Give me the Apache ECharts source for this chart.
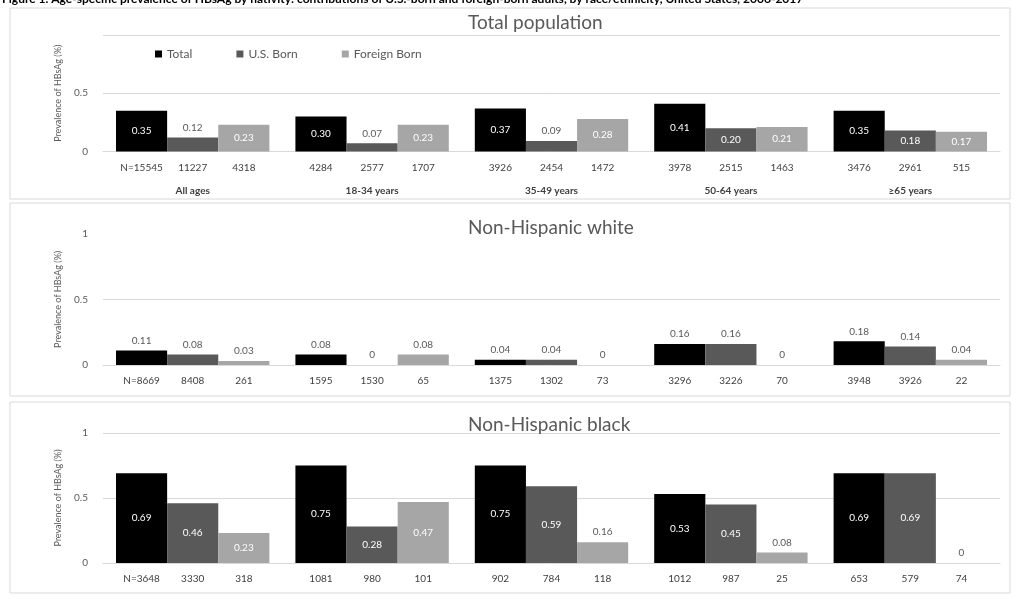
<!DOCTYPE html>
<html>
<head>
<meta charset="utf-8">
<script src="https://cdn.jsdelivr.net/npm/echarts@6/dist/echarts.min.js"></script>
<style>
  html, body { margin: 0; padding: 0; background: #fff; }
  #chart { width: 1018px; height: 599px; }
</style>
</head>
<body>
<div id="chart"></div>
<script>
// Age groups and nativity groups
const categories = ['All ages', '18-34 years', '35-49 years', '50-64 years', '\u226565 years'];
const seriesNames = ['Total', 'U.S. Born', 'Foreign Born'];
const yTicks = [0, 0.5, 1];

// Total population
const totalPopTotal = [0.35, 0.30, 0.37, 0.41, 0.35];
const totalPopUS = [0.12, 0.07, 0.09, 0.20, 0.18];
const totalPopForeign = [0.23, 0.23, 0.28, 0.21, 0.17];
const totalPopNTotal = ['N=15545', '4284', '3926', '3978', '3476'];
const totalPopNUS = ['11227', '2577', '2454', '2515', '2961'];
const totalPopNForeign = ['4318', '1707', '1472', '1463', '515'];

// Non-Hispanic white
const whiteTotal = [0.11, 0.08, 0.04, 0.16, 0.18];
const whiteUS = [0.08, 0, 0.04, 0.16, 0.14];
const whiteForeign = [0.03, 0.08, 0, 0, 0.04];
const whiteNTotal = ['N=8669', '1595', '1375', '3296', '3948'];
const whiteNUS = ['8408', '1530', '1302', '3226', '3926'];
const whiteNForeign = ['261', '65', '73', '70', '22'];

// Non-Hispanic black
const blackTotal = [0.69, 0.75, 0.75, 0.53, 0.69];
const blackUS = [0.46, 0.28, 0.59, 0.45, 0.69];
const blackForeign = [0.23, 0.47, 0.16, 0.08, 0];
const blackNTotal = ['N=3648', '1081', '902', '1012', '653'];
const blackNUS = ['3330', '980', '784', '987', '579'];
const blackNForeign = ['318', '101', '118', '25', '74'];

const panelTitles = ['Total population', 'Non-Hispanic white', 'Non-Hispanic black'];
const yAxisTitle = 'Prevalence of HBsAg (%)';

const FONT = 'Lato, "Liberation Sans", sans-serif';
const barColors = ['#000000', '#595959', '#a6a6a6'];

const panels = [
  { values: [totalPopTotal, totalPopUS, totalPopForeign], ns: [totalPopNTotal, totalPopNUS, totalPopNForeign],
    grid: { left: 103, right: 18, top: 35, bottom: 447.5 }, insideMin: 0.15, showMaxLabel: false, showMaxLine: true, catLabels: true, titleTop: 8 },
  { values: [whiteTotal, whiteUS, whiteForeign], ns: [whiteNTotal, whiteNUS, whiteNForeign],
    grid: { left: 103, right: 18, top: 233.6, bottom: 234 }, insideMin: 10, showMaxLabel: true, showMaxLine: false, catLabels: false, titleTop: 213 },
  { values: [blackTotal, blackUS, blackForeign], ns: [blackNTotal, blackNUS, blackNForeign],
    grid: { left: 103, right: 18, top: 433, bottom: 36 }, insideMin: 0.2, showMaxLabel: true, showMaxLine: true, catLabels: false, titleTop: 410 }
];

function fmt(v) { return v === 0 ? '0' : v.toFixed(2); }

const grids = [], xAxes = [], yAxes = [], series = [], titles = [];

panels.forEach((p, g) => {
  grids.push(p.grid);
  titles.push({ text: panelTitles[g], left: 463, top: p.titleTop,
    textStyle: { fontFamily: FONT, fontSize: 19, fontWeight: 'normal', color: '#595959' } });
  xAxes.push({
    type: 'category', gridIndex: g, data: categories,
    axisLine: { lineStyle: { color: '#d9d9d9', width: 1 } },
    axisTick: { show: false },
    axisLabel: { show: p.catLabels, margin: 34, fontFamily: FONT, fontSize: 10, fontWeight: 'bold', color: '#404040' }
  });
  yAxes.push({
    type: 'value', gridIndex: g, min: yTicks[0], max: yTicks[yTicks.length - 1], interval: yTicks[1] - yTicks[0],
    name: yAxisTitle, nameLocation: 'middle', nameGap: 40, nameRotate: 90,
    nameTextStyle: { fontFamily: FONT, fontSize: 9, color: '#595959' },
    axisLine: { show: false }, axisTick: { show: false },
    axisLabel: { margin: 15, fontFamily: FONT, fontSize: 10, color: '#595959', showMaxLabel: p.showMaxLabel },
    splitLine: { show: true, showMaxLine: p.showMaxLine, lineStyle: { color: '#d9d9d9', width: 1 } }
  });
  p.values.forEach((vals, k) => {
    const stackId = 'g' + g + 's' + k;
    // sample-size row under each bar
    series.push({
      type: 'bar', name: seriesNames[k] + ' n', xAxisIndex: g, yAxisIndex: g, stack: stackId,
      barGap: '0%', barCategoryGap: '14.5%', silent: true,
      data: p.ns[k].map(() => 0),
      itemStyle: { color: 'rgba(0,0,0,0)' },
      label: { show: true, position: 'bottom', distance: 11, fontFamily: FONT, fontSize: 10, color: '#404040',
        formatter: (d) => p.ns[k][d.dataIndex] }
    });
    series.push({
      type: 'bar', name: seriesNames[k], xAxisIndex: g, yAxisIndex: g, stack: stackId,
      barGap: '0%', barCategoryGap: '14.5%',
      itemStyle: { color: barColors[k] },
      data: vals.map(v => {
        const inside = v >= p.insideMin;
        return { value: v, label: { position: inside ? 'inside' : 'top', color: inside ? '#ffffff' : '#595959' } };
      }),
      label: { show: true, fontFamily: FONT, fontSize: 10, formatter: (d) => fmt(d.value) }
    });
  });
});

const chart = echarts.init(document.getElementById('chart'), null, { renderer: 'canvas' });
chart.setOption({
  backgroundColor: '#ffffff',
  animation: false,
  title: titles,
  legend: {
    data: seriesNames, left: 150, top: 43, itemWidth: 7, itemHeight: 7, itemGap: 44, icon: 'rect',
    textStyle: { fontFamily: FONT, fontSize: 12, color: '#595959' }
  },
  graphic: [
    { type: 'rect', shape: { x: 10, y: 8, width: 1000, height: 191 }, style: { fill: 'none', stroke: '#d9d9d9', lineWidth: 1 }, z: -1 },
    { type: 'rect', shape: { x: 10, y: 203, width: 1000, height: 193 }, style: { fill: 'none', stroke: '#d9d9d9', lineWidth: 1 }, z: -1 },
    { type: 'rect', shape: { x: 10, y: 402, width: 1000, height: 191 }, style: { fill: 'none', stroke: '#d9d9d9', lineWidth: 1 }, z: -1 },
    { type: 'text', left: 2, top: -7, style: { text: 'Figure 1. Age-specific prevalence of HBsAg by nativity: contributions of U.S.-born and foreign-born adults, by race/ethnicity, United States, 2006-2017',
      font: 'bold 12px ' + FONT, fill: '#000000' } }
  ],
  grid: grids,
  xAxis: xAxes,
  yAxis: yAxes,
  series: series
});
</script>
</body>
</html>
